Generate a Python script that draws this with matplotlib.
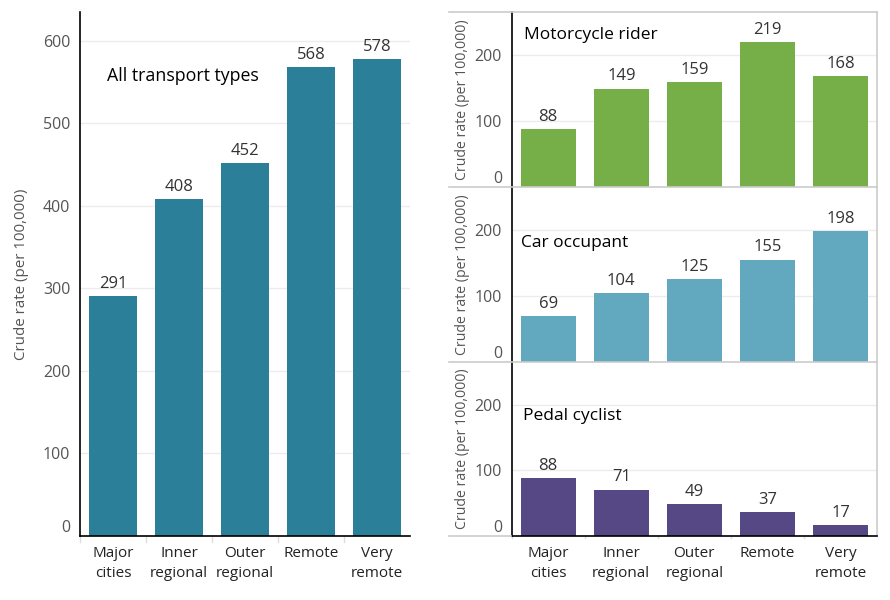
import matplotlib
matplotlib.use("Agg")
import matplotlib.pyplot as plt
from matplotlib.lines import Line2D

plt.rcParams['font.family'] = ['Open Sans', 'DejaVu Sans']

categories = ["Major\ncities", "Inner\nregional", "Outer\nregional", "Remote", "Very\nremote"]
all_transport = [291, 408, 452, 568, 578]
motorcycle = [88, 149, 159, 219, 168]
car = [69, 104, 125, 155, 198]
pedal = [88, 71, 49, 37, 17]

left_ticks = [0, 100, 200, 300, 400, 500, 600]
right_ticks = [0, 100, 200]
ylabel = "Crude rate (per 100,000)"

C_ALL = "#2c7f99"
C_MOTO = "#76ae48"
C_CAR = "#62a8bf"
C_PED = "#554884"
GRID = "#ececec"
TICKC = "#555555"
SEP = "#cccccc"

W, H = 890, 600
fig = plt.figure(figsize=(W / 100, H / 100), dpi=100)

def ax_at(x0, y0, x1, y1):
    return fig.add_axes([x0 / W, 1 - y1 / H, (x1 - x0) / W, (y1 - y0) / H])

def style(ax, ylim, ticks, bottom_black, show_x):
    ax.set_ylim(0, ylim)
    ax.set_xlim(-0.5, len(categories) - 0.5)
    ax.set_yticks(ticks)
    ax.tick_params(axis='y', length=0, pad=7, labelsize=11.5, labelcolor=TICKC)
    for lab in ax.get_yticklabels():
        if lab.get_text() == "0":
            lab.set_verticalalignment('bottom')
    ax.grid(axis='y', color=GRID, linewidth=1)
    ax.set_axisbelow(True)
    ax.spines['left'].set_color('black')
    ax.spines['left'].set_linewidth(1.2)
    if bottom_black:
        ax.spines['bottom'].set_color('black')
        ax.spines['bottom'].set_linewidth(1.2)
    else:
        ax.spines['bottom'].set_visible(False)
    if show_x:
        ax.set_xticks(range(len(categories)))
        ax.set_xticklabels(categories, fontsize=11, color="#222222", linespacing=1.45)
        ax.tick_params(axis='x', length=0, pad=7)
        for b in [i + 0.5 for i in range(len(categories) - 1)] + [-0.5]:
            ax.plot([b, b], [0, -0.012], transform=ax.get_xaxis_transform(),
                    color="#dddddd", lw=1, clip_on=False)
    else:
        ax.set_xticks([])

def bars(ax, vals, color, width):
    x = range(len(vals))
    ax.bar(x, vals, width=width, color=color, zorder=2)
    for xi, v in zip(x, vals):
        ax.annotate(str(v), (xi, v), xytext=(0, 3), textcoords='offset points',
                    ha='center', va='bottom', fontsize=12, color="#333333")

# Left panel
axL = ax_at(80, 12, 410, 536)
bars(axL, all_transport, C_ALL, 0.74)
style(axL, 635, left_ticks, True, True)
axL.spines['top'].set_visible(False)
axL.spines['right'].set_visible(False)
axL.set_ylabel(ylabel, fontsize=10.9, color=TICKC)
axL.yaxis.set_label_coords(-0.155, 0.5)
axL.text(0.082, 0.878, "All transport types", transform=axL.transAxes,
         fontsize=12.8, color="black", va='center', ha='left')

# Right panels
xr0, xr1 = 511.7, 877
bounds = [(12, 187), (187, 361.7), (361.7, 536.3)]
data = [(motorcycle, C_MOTO, "Motorcycle rider", (0.034, 0.869)),
        (car, C_CAR, "Car occupant", (0.025, 0.68)),
        (pedal, C_PED, "Pedal cyclist", (0.031, 0.689))]
for i, ((y0, y1), (vals, col, title, tpos)) in enumerate(zip(bounds, data)):
    ax = ax_at(xr0, y0, xr1, y1)
    bars(ax, vals, col, 0.75)
    last = i == 2
    style(ax, 265, right_ticks, last, last)
    ax.spines['top'].set_visible(False)
    ax.spines['right'].set_color(SEP)
    ax.spines['right'].set_linewidth(1.2)
    ax.set_ylabel(ylabel, fontsize=10.2, color=TICKC)
    ax.yaxis.set_label_coords(-0.114, 0.5)
    ax.text(tpos[0], tpos[1], title, transform=ax.transAxes,
            fontsize=12.5, color="black", va='center', ha='left')

# separator lines across right block
for yy in [12, 187, 361.7]:
    fig.add_artist(Line2D([449 / W, 877 / W], [1 - yy / H, 1 - yy / H],
                          color=SEP, lw=1.2))
fig.add_artist(Line2D([449 / W, 511 / W], [1 - 536.3 / H, 1 - 536.3 / H],
                      color=SEP, lw=1.2))

fig.savefig("out.png", dpi=100)
